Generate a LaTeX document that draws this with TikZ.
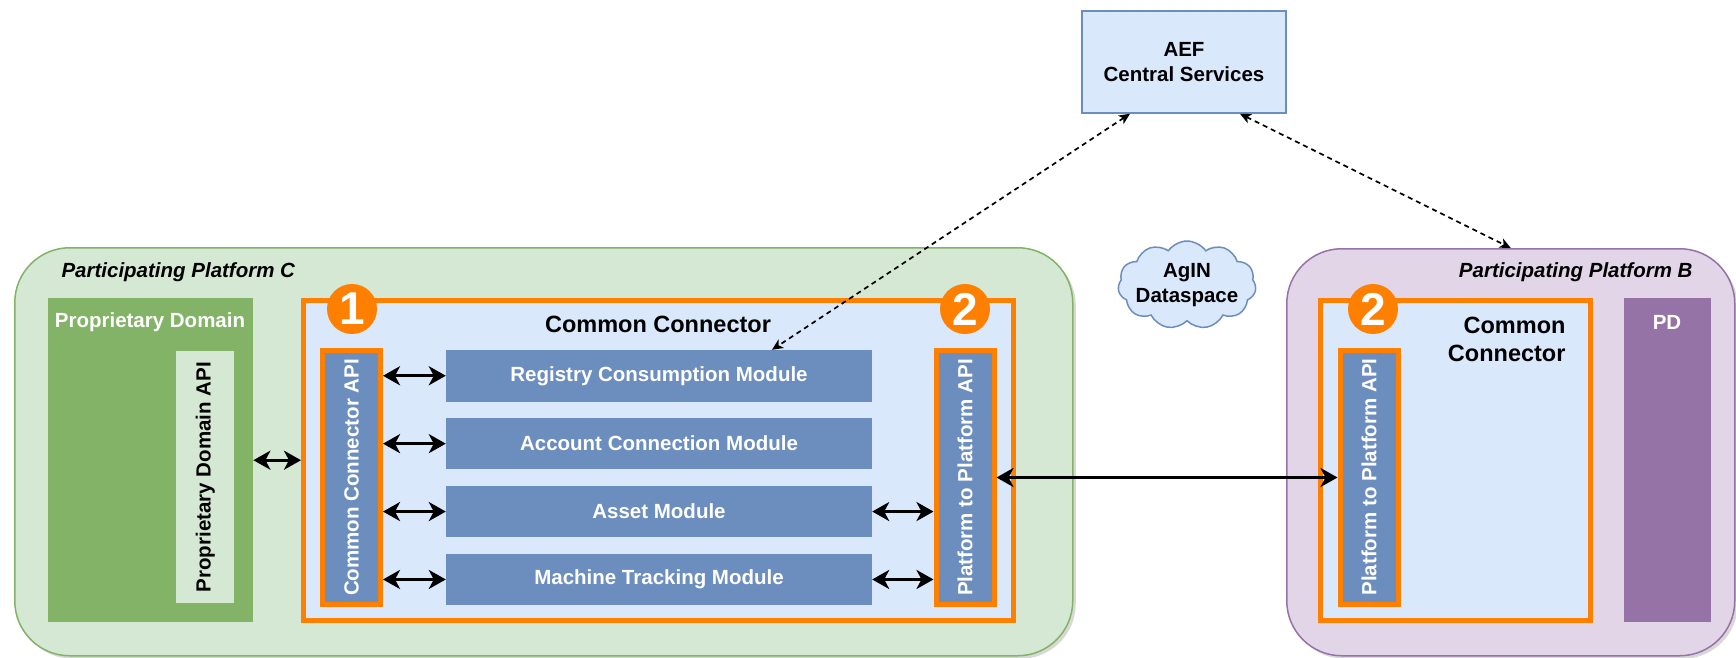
\documentclass[tikz,border=0pt]{standalone}
\usepackage{fontspec}
\setmainfont{Liberation Sans}
\usetikzlibrary{positioning}
\usetikzlibrary{shapes.symbols}
\usetikzlibrary{shadows}
\usetikzlibrary{arrows.meta}
\definecolor{GREEN-LIGHT}{HTML}{D5E8D4}
\definecolor{GREEN-DARK}{HTML}{82B366}
\definecolor{BLUE-LIGHT}{HTML}{DAE8FC}
\definecolor{BLUE-DARK}{HTML}{6C8EBF}
\definecolor{PURPLE-LIGHT}{HTML}{E1D5E7}
\definecolor{PURPLE-DARK}{HTML}{9673A6}
\definecolor{AEF-ORANGE}{HTML}{FF8000}
\newcommand{\diafont}{\fontsize{20.5}{25}\selectfont\bfseries}
\newcommand{\diatitle}{\fontsize{23.5}{28}\selectfont\bfseries}
\newcommand{\diabadge}{\fontsize{46}{46}\selectfont\bfseries}

\begin{document}
\begin{tikzpicture}[x=1pt,y=-1pt,every path/.style={>={Stealth[length=17pt,width=19pt,inset=5pt]}},
	platform/.style={rectangle,draw,line width=1.5pt,rounded corners=55pt,anchor=north west,inner sep=0pt,drop shadow={shadow xshift=3pt,shadow yshift=-3pt,fill=black!30}},
	domainbox/.style={rectangle,anchor=north west,inner sep=0pt},
	connector/.style={rectangle,draw=AEF-ORANGE,line width=5pt,fill=BLUE-LIGHT,inner sep=0pt},
	apibox/.style={rectangle,draw=AEF-ORANGE,line width=5pt,fill=BLUE-DARK,inner sep=0pt,minimum width=58pt,minimum height=254pt},
	module/.style={rectangle,fill=BLUE-DARK,text=white,font=\diafont,minimum width=426pt,minimum height=51.5pt,inner sep=0pt},
	badge/.style={circle,fill=AEF-ORANGE,text=white,font=\diabadge,minimum size=50pt,inner sep=0pt},
	link/.style={<->,line width=3pt},
	servicelink/.style={<->,>={Stealth[length=11pt,width=10pt,inset=3pt]},line width=1.7pt,dash pattern=on 5pt off 4pt}]
			\useasboundingbox (0,0) rectangle (1736,657);
		
			% draw platform C
			\node[platform,fill=GREEN-LIGHT,draw=GREEN-DARK,minimum width=1058pt,minimum height=408pt] (platC) at (14,247) {};
			\node[anchor=west,font=\diafont\itshape] (platCname) at (58,272) {Participating Platform C};
			\node[domainbox,fill=GREEN-DARK,minimum width=205pt,minimum height=324pt] (pdC) at (48,298) {};
			\node[font=\diafont,text=white] (pdCname) at (150,322) {Proprietary Domain};
			\node[domainbox,fill=GREEN-LIGHT,minimum width=58pt,minimum height=252pt] (pdapi) at (176,351) {};
			\node[rotate=90,font=\diafont] (pdapiname) at (pdapi.center) {Proprietary Domain API};
		
			% common connector of C
			\node[connector,minimum width=710pt,minimum height=320pt] (ccC) at (658.5,460.5) {};
			\node[font=\diatitle] (ccCname) at (658,324) {Common Connector};
			\node[badge] (badge1) at (352,309) {1};
			\node[apibox] (ccapi) at (351.5,477.5) {};
			\node[rotate=90,font=\diafont,text=white] (ccapiname) at (ccapi.center) {Common Connector API};
			\node[module] (reg) at (659,375.75) {Registry Consumption Module};
			\node[module,below=16pt of reg] (acct) {Account Connection Module};
			\node[module,below=16pt of acct] (asset) {Asset Module};
			\node[module,below=16pt of asset] (track) {Machine Tracking Module};
			\node[apibox] (p2pC) at (965,477.5) {};
			\node[rotate=90,font=\diafont,text=white] (p2pCname) at (p2pC.center) {Platform to Platform API};
			\node[badge] (badge2C) at (965,309) {2};
		
			% central services and dataspace
			\node[rectangle,draw=BLUE-DARK,fill=BLUE-LIGHT,line width=1.5pt,minimum width=204pt,minimum height=102pt,align=center,font=\diafont] (aef) at (1184,62) {AEF\\Central Services};
			\node[cloud,cloud puffs=11,cloud puff arc=110,aspect=1.6,draw=BLUE-DARK,fill=BLUE-LIGHT,line width=1.5pt,minimum width=138pt,minimum height=88pt,inner sep=0pt] (cloud) at (1187,285) {};
			\node[align=center,font=\diafont] (cloudname) at (cloud.center) {AgIN\\Dataspace};
		
			% draw platform B
			\node[platform,fill=PURPLE-LIGHT,draw=PURPLE-DARK,minimum width=448pt,minimum height=407pt] (platB) at (1286,248) {};
			\node[anchor=east,font=\diafont\itshape] (platBname) at (1696,272) {Participating Platform B};
			\node[connector,minimum width=270pt,minimum height=320pt] (ccB) at (1455.5,460.5) {};
			\node[badge] (badge2B) at (1373,309) {2};
			\node[anchor=east,align=right,font=\diatitle] (ccBname) at (1569,339) {Common\\Connector};
			\node[apibox] (p2pB) at (1369,477) {};
			\node[rotate=90,font=\diafont,text=white] (p2pBname) at (p2pB.center) {Platform to Platform API};
			\node[domainbox,fill=PURPLE-DARK,minimum width=87pt,minimum height=324pt] (pdB) at (1624,298) {};
			\node[font=\diafont,text=white] (pdBname) at (1667,322) {PD};
		
			% draw arrows
			\draw[link] (pdC.east) -- (pdC.east -| ccC.west);
			\foreach \m in {reg,acct,asset,track}
				\draw[link] (ccapi.east |- \m.west) -- (\m.west);
			\foreach \m in {asset,track}
				\draw[link] (\m.east) -- (\m.east -| p2pC.west);
			\draw[link] (p2pC.east) -- (p2pC.east -| p2pB.west);
			\draw[servicelink] ([xshift=-54pt]aef.south) -- ([xshift=113pt]reg.north);
			\draw[servicelink] ([xshift=56pt]aef.south) -- (platB.north);
		\end{tikzpicture}
\end{document}
